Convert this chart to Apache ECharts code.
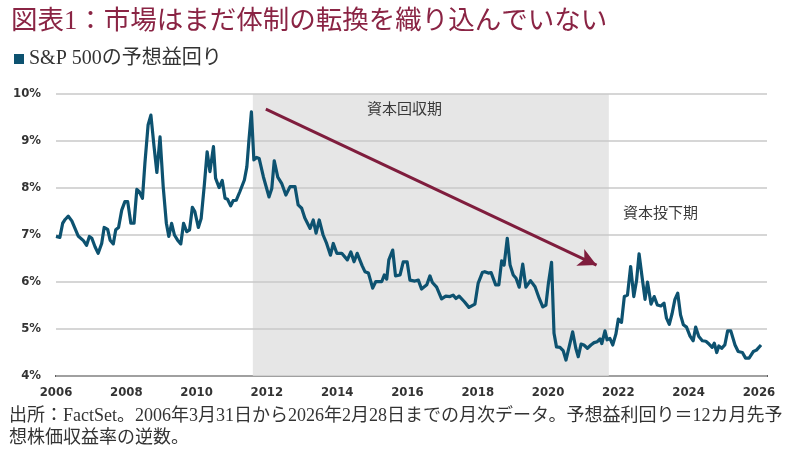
<!DOCTYPE html>
<html>
<head>
<meta charset="utf-8">
<script src="https://cdn.jsdelivr.net/npm/echarts@6/dist/echarts.min.js"></script>
<style>
  html, body { margin: 0; padding: 0; background: #fff; }
  #chart { width: 800px; height: 469px; }
</style>
</head>
<body>
<div id="chart"></div>
<script>
// S&P 500 forward earnings yield (year, %)
const years = [
  2006.00, 2006.11, 2006.19, 2006.26, 2006.35, 2006.45, 2006.54, 2006.63, 2006.78, 2006.87,
  2006.95, 2007.02, 2007.11, 2007.20, 2007.30, 2007.37, 2007.47, 2007.54, 2007.63, 2007.70,
  2007.78, 2007.87, 2007.96, 2008.04, 2008.13, 2008.22, 2008.30, 2008.37, 2008.46, 2008.53,
  2008.62, 2008.70, 2008.79, 2008.87, 2008.96, 2009.05, 2009.14, 2009.21, 2009.29, 2009.37,
  2009.46, 2009.55, 2009.63, 2009.72, 2009.80, 2009.88, 2009.95, 2010.05, 2010.13, 2010.22,
  2010.30, 2010.38, 2010.48, 2010.54, 2010.64, 2010.73, 2010.81, 2010.88, 2010.97, 2011.04,
  2011.13, 2011.23, 2011.36, 2011.43, 2011.49, 2011.56, 2011.63, 2011.71, 2011.78, 2011.90,
  2011.99, 2012.06, 2012.14, 2012.21, 2012.31, 2012.42, 2012.54, 2012.66, 2012.80, 2012.89,
  2012.99, 2013.08, 2013.23, 2013.32, 2013.40, 2013.49, 2013.60, 2013.70, 2013.81, 2013.89,
  2013.99, 2014.13, 2014.29, 2014.39, 2014.48, 2014.57, 2014.71, 2014.79, 2014.89, 2015.01,
  2015.10, 2015.27, 2015.34, 2015.41, 2015.47, 2015.58, 2015.66, 2015.79, 2015.88, 2015.99,
  2016.07, 2016.21, 2016.31, 2016.40, 2016.55, 2016.64, 2016.71, 2016.83, 2016.97, 2017.09,
  2017.21, 2017.30, 2017.38, 2017.47, 2017.62, 2017.75, 2017.92, 2018.01, 2018.13, 2018.20,
  2018.30, 2018.38, 2018.51, 2018.60, 2018.68, 2018.75, 2018.84, 2018.92, 2019.01, 2019.09,
  2019.18, 2019.28, 2019.37, 2019.50, 2019.63, 2019.75, 2019.85, 2019.94, 2020.01, 2020.10,
  2020.17, 2020.24, 2020.34, 2020.43, 2020.51, 2020.60, 2020.70, 2020.79, 2020.86, 2020.94,
  2021.02, 2021.12, 2021.22, 2021.31, 2021.40, 2021.48, 2021.53, 2021.62, 2021.68, 2021.76,
  2021.84, 2021.93, 2022.00, 2022.09, 2022.17, 2022.26, 2022.35, 2022.44, 2022.52, 2022.59,
  2022.68, 2022.76, 2022.83, 2022.93, 2023.02, 2023.11, 2023.21, 2023.30, 2023.37, 2023.45,
  2023.53, 2023.61, 2023.69, 2023.77, 2023.85, 2023.94, 2024.04, 2024.13, 2024.20, 2024.29,
  2024.39, 2024.49, 2024.58, 2024.67, 2024.73, 2024.80, 2024.86, 2024.94, 2025.03, 2025.11,
  2025.20, 2025.32, 2025.41, 2025.53, 2025.62, 2025.72, 2025.84, 2025.93, 2026.06
];
const yields = [
  6.97, 6.95, 7.25, 7.33, 7.40, 7.30, 7.14, 6.98, 6.88, 6.78,
  6.97, 6.93, 6.75, 6.61, 6.82, 7.16, 7.12, 6.89, 6.81, 7.11,
  7.16, 7.53, 7.71, 7.71, 7.25, 7.25, 7.97, 7.92, 7.78, 8.53,
  9.34, 9.55, 8.88, 8.33, 9.09, 8.03, 7.25, 6.97, 7.25, 7.00,
  6.89, 6.81, 7.25, 7.07, 7.11, 7.59, 7.50, 7.16, 7.35, 8.06,
  8.77, 8.35, 8.88, 8.21, 8.01, 8.16, 7.78, 7.76, 7.62, 7.73,
  7.74, 7.92, 8.17, 8.45, 9.02, 9.62, 8.60, 8.65, 8.63, 8.24,
  8.00, 7.81, 7.99, 8.58, 8.23, 8.10, 7.85, 8.03, 8.03, 7.64,
  7.57, 7.36, 7.14, 7.32, 7.04, 7.32, 7.00, 6.82, 6.57, 6.82,
  6.61, 6.61, 6.47, 6.64, 6.43, 6.61, 6.35, 6.22, 6.19, 5.87,
  6.01, 6.01, 6.15, 6.06, 6.47, 6.68, 6.13, 6.15, 6.43, 6.43,
  6.04, 6.02, 6.04, 5.85, 5.94, 6.13, 5.99, 5.89, 5.64, 5.70,
  5.69, 5.72, 5.65, 5.70, 5.58, 5.46, 5.53, 5.97, 6.20, 6.22,
  6.19, 6.20, 5.94, 5.94, 6.45, 6.36, 6.93, 6.36, 6.15, 6.08,
  5.89, 6.38, 5.89, 6.03, 5.90, 5.65, 5.47, 5.51, 5.97, 6.42,
  4.91, 4.62, 4.61, 4.54, 4.34, 4.62, 4.94, 4.59, 4.41, 4.68,
  4.66, 4.59, 4.66, 4.71, 4.73, 4.79, 4.69, 4.96, 4.77, 4.80,
  4.66, 4.89, 5.21, 5.14, 5.69, 5.72, 6.33, 5.69, 6.04, 6.60,
  6.08, 5.63, 6.00, 5.53, 5.69, 5.51, 5.49, 5.55, 5.23, 5.10,
  5.33, 5.63, 5.76, 5.30, 5.09, 5.04, 4.85, 4.75, 5.04, 4.84,
  4.75, 4.74, 4.68, 4.61, 4.70, 4.50, 4.64, 4.59, 4.66, 4.96,
  4.96, 4.66, 4.52, 4.50, 4.38, 4.38, 4.52, 4.55, 4.66
];

// shaded "capital recovery" period and the trend arrow
const shadeRange = [2011.60, 2021.73];
const arrowFrom = [2011.97, 9.68];
const arrowTo = [2021.38, 6.36];

const titleText = '図表1：市場はまだ体制の転換を織り込んでいない';
const seriesName = 'S&P 500の予想益回り';
const shadeLabel = '資本回収期';
const afterLabel = '資本投下期';
const noteText = '出所：FactSet。2006年3月31日から2026年2月28日までの月次データ。予想益利回り＝12カ月先予\n想株価収益率の逆数。';

const lineColor = '#0d5270';
const maroon = '#7f1d3d';
const jpFont = "'Liberation Serif', 'Noto Sans CJK JP', serif";
const axisFont = "'DejaVu Sans Condensed', 'Liberation Sans Narrow', sans-serif";

const chart = echarts.init(document.getElementById('chart'));

const option = {
  backgroundColor: '#fff',
  animation: false,
  title: {
    text: titleText,
    left: 6,
    top: 4,
    textStyle: { color: '#8a2444', fontSize: 26.5, fontWeight: 'normal', fontFamily: jpFont }
  },
  legend: {
    data: [seriesName],
    left: 9,
    top: 44,
    icon: 'rect',
    itemWidth: 10,
    itemHeight: 10,
    itemGap: 6,
    textStyle: { color: '#333', fontSize: 20, fontFamily: jpFont, padding: [0, 0, 0, 0] }
  },
  grid: { left: 56, right: 33, top: 94, bottom: 93 },
  xAxis: {
    type: 'value',
    min: 2006,
    max: 2026.23,
    interval: 2,
    axisLine: { show: true, onZero: false, lineStyle: { color: '#2b2b2b', width: 2 } },
    axisTick: { show: false },
    splitLine: { show: false },
    axisLabel: {
      showMaxLabel: false,
      margin: 10,
      color: '#333',
      fontSize: 13,
      fontWeight: 'bold',
      fontFamily: axisFont,
      formatter: (v) => (Number.isInteger(v) ? String(v) : '')
    }
  },
  yAxis: {
    type: 'value',
    min: 4,
    max: 10,
    interval: 1,
    z: 2,
    axisLine: { show: false },
    axisTick: { show: false },
    splitLine: { lineStyle: { color: '#c9c9c9', width: 1.5 } },
    axisLabel: {
      margin: 15,
      color: '#333',
      fontSize: 13,
      fontWeight: 'bold',
      fontFamily: axisFont,
      formatter: (v) => v + '%'
    }
  },
  series: [
    {
      name: 'shade',
      type: 'line',
      data: [],
      z: 1,
      silent: true,
      markArea: {
        silent: true,
        itemStyle: { color: '#e6e6e6' },
        data: [[{ xAxis: shadeRange[0] }, { xAxis: shadeRange[1] }]]
      }
    },
    {
      name: seriesName,
      type: 'line',
      z: 3,
      showSymbol: false,
      smooth: false,
      data: years.map((y, i) => [y, yields[i]]),
      itemStyle: { color: lineColor },
      lineStyle: { color: lineColor, width: 3.2, join: 'round' },
      markLine: {
        silent: true,
        symbol: ['none', 'arrow'],
        symbolSize: [14, 18],
        label: { show: false },
        lineStyle: { color: maroon, width: 3, type: 'solid' },
        data: [[{ coord: arrowFrom }, { coord: arrowTo }]]
      }
    }
  ],
  graphic: [
    {
      type: 'text',
      left: 367,
      top: 101,
      z: 100,
      style: { text: shadeLabel, fill: '#3a3a3a', fontSize: 15, fontFamily: "'Noto Sans CJK JP', sans-serif" }
    },
    {
      type: 'text',
      left: 623,
      top: 205,
      z: 100,
      style: { text: afterLabel, fill: '#3a3a3a', fontSize: 15, fontFamily: "'Noto Sans CJK JP', sans-serif" }
    },
    {
      type: 'text',
      left: 9,
      top: 405,
      z: 100,
      style: { text: noteText, fill: '#333', fontSize: 18, lineHeight: 22, fontFamily: jpFont }
    }
  ]
};

chart.setOption(option);
</script>
</body>
</html>
